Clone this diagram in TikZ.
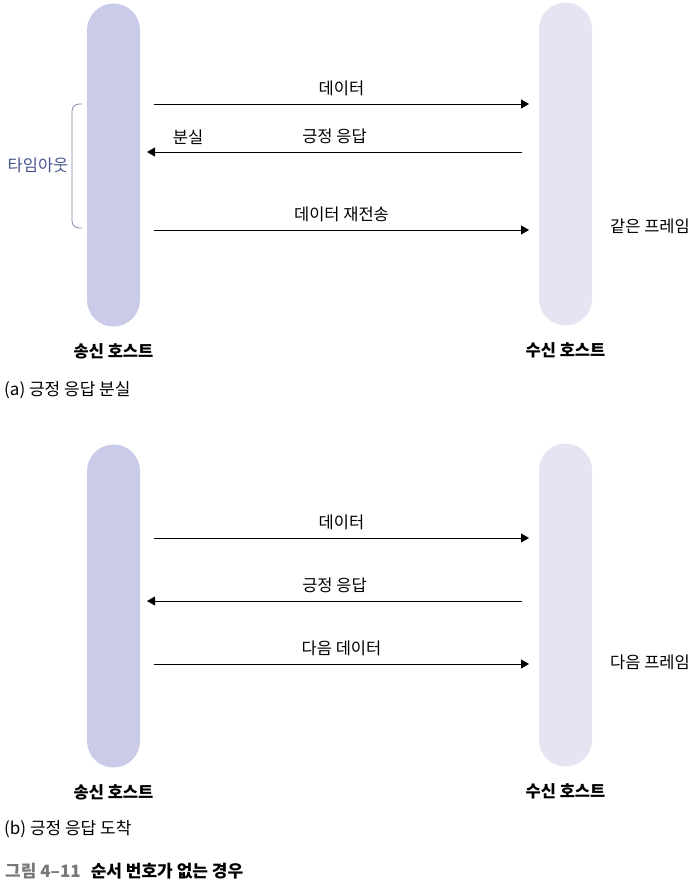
\documentclass[tikz,border=0pt]{standalone}
\usepackage{fontspec}
\setmainfont{Noto Sans CJK KR}
\definecolor{hostdark}{RGB}{201, 203, 233}
\definecolor{hostlight}{RGB}{228, 228, 242}
\definecolor{timeblue}{RGB}{72, 86, 144}
\definecolor{bracegray}{RGB}{128, 134, 170}
\definecolor{capgray}{RGB}{120, 120, 120}
\usetikzlibrary{arrows.meta, positioning, calc}

\begin{document}
\begin{tikzpicture}[x=1pt, y=-1pt,
  host/.style={minimum width=53pt, minimum height=323pt, rounded corners=26.5pt, inner sep=0pt},
  msg/.style={line width=0.9pt, -{Triangle[length=8pt, width=9pt]}},
  lbl/.style={font=\fontsize{16.5}{18}\selectfont, inner sep=0pt},
  hostname/.style={font=\fontsize{16.5}{18}\selectfont\bfseries, inner sep=0pt}]
  \useasboundingbox (0,0) rectangle (697,883);

  % (a) acknowledgement lost
  \node[host, fill=hostdark] (sndA) at (113.5,165) {};
  \node[host, fill=hostlight] (rcvA) at (565.5,164) {};
  \node[hostname, below=17pt of sndA] (sndAname) {송신 호스트};
  \node[hostname, below=17pt of rcvA] (rcvAname) {수신 호스트};

  \coordinate (a1s) at (154,104);  \coordinate (a1e) at (529,104);
  \coordinate (a2s) at (522,152);  \coordinate (a2e) at (147,152);
  \coordinate (a3s) at (154,230);  \coordinate (a3e) at (529,230);
  \draw[msg] (a1s) -- node[lbl, above=8pt] (a1lbl) {데이터} (a1e);
  \draw[line width=0.9pt, {Triangle[length=8pt, width=9pt]}-] (a2e) -- node[lbl, above=8pt] (a2lbl) {긍정 응답} (a2s);
  \node[lbl] (lostlbl) at (188,137) {분실};
  \draw[msg] (a3s) -- node[lbl, above=8pt] (a3lbl) {데이터 재전송} (a3e);
  \node[lbl] (samelbl) at (650,226) {같은 프레임};

  \coordinate (brtop) at (82,104);
  \coordinate (brbot) at (82,228);
  \draw[bracegray, line width=0.8pt, rounded corners=7pt] (brtop) -- (72,104) -- (72,228) -- (brbot);
  \node[lbl, text=timeblue] (timeout) at (38,165) {타임아웃};

  \node[lbl, font=\fontsize{17}{19}\selectfont, anchor=west] (capA) at (4,390) {(a) 긍정 응답 분실};

  % (b) acknowledgement arrives
  \node[host, fill=hostdark] (sndB) at (113.5,606) {};
  \node[host, fill=hostlight] (rcvB) at (565.5,605) {};
  \node[hostname, below=17pt of sndB] (sndBname) {송신 호스트};
  \node[hostname, below=17pt of rcvB] (rcvBname) {수신 호스트};

  \coordinate (b1s) at (154,538);  \coordinate (b1e) at (529,538);
  \coordinate (b2s) at (522,601);  \coordinate (b2e) at (147,601);
  \coordinate (b3s) at (154,664);  \coordinate (b3e) at (529,664);
  \draw[msg] (b1s) -- node[lbl, above=8pt] (b1lbl) {데이터} (b1e);
  \draw[line width=0.9pt, {Triangle[length=8pt, width=9pt]}-] (b2e) -- node[lbl, above=8pt] (b2lbl) {긍정 응답} (b2s);
  \draw[msg] (b3s) -- node[lbl, above=8pt] (b3lbl) {다음 데이터} (b3e);
  \node[lbl] (nextlbl) at (650,662) {다음 프레임};

  \node[lbl, font=\fontsize{17}{19}\selectfont, anchor=west] (capB) at (4,829) {(b) 긍정 응답 도착};

  \node[font=\fontsize{17}{19}\selectfont\bfseries, inner sep=0pt, anchor=west] (figcap) at (5,871)
    {\textcolor{capgray}{그림 4–11}\hspace{10pt}순서 번호가 없는 경우};
\end{tikzpicture}
\end{document}
